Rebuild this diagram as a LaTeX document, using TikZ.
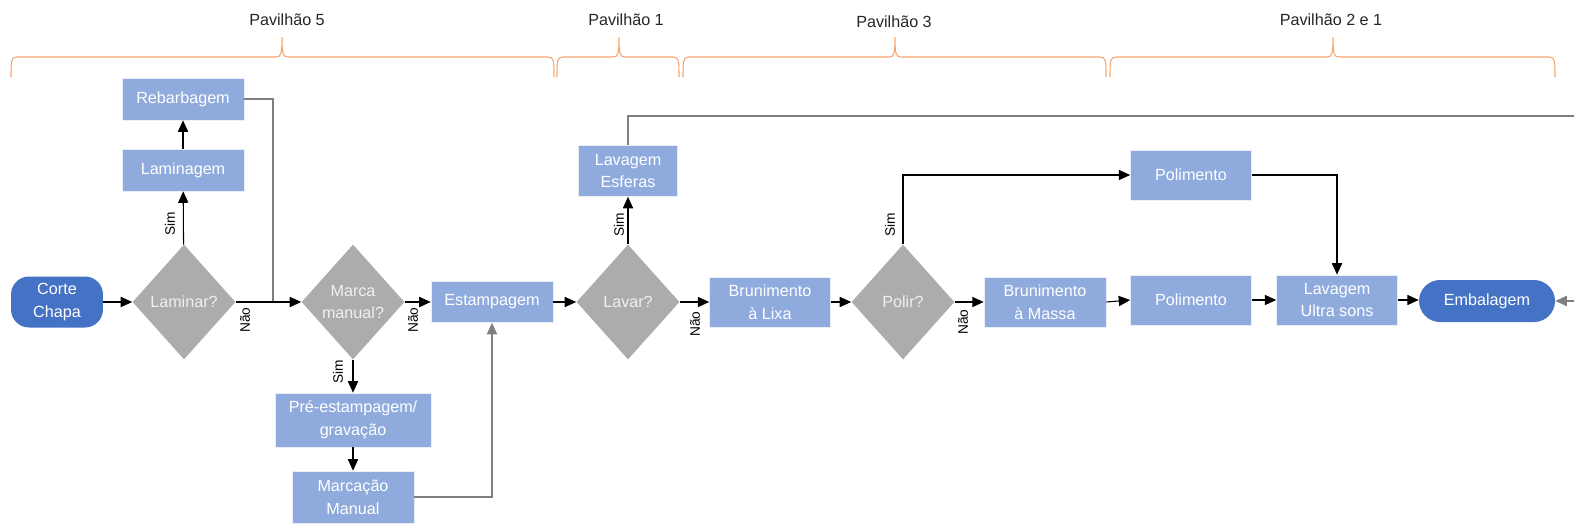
\documentclass[tikz,border=0pt]{standalone}
\usepackage{fontspec}
\setmainfont{Liberation Sans}
\usepackage{xcolor}
\usepackage{tikz}
\usetikzlibrary{arrows.meta,shapes.geometric}
\definecolor{boxblue}{HTML}{8FAADC}
\definecolor{termblue}{HTML}{4472C4}
\definecolor{decgray}{HTML}{AEABAB}
\definecolor{pavorange}{HTML}{F4A56F}
\definecolor{linegray}{HTML}{7F7F7F}
\tikzset{
  box/.style={rectangle, fill=boxblue, draw=white!80!boxblue, line width=0.4pt, text=white,
    font=\fontsize{9.2}{13}\selectfont, align=center, inner sep=1pt},
  term/.style={rectangle, rounded corners=0.36cm, fill=termblue, text=white,
    font=\fontsize{9.2}{13}\selectfont, align=center, inner sep=1pt},
  dec/.style={diamond, fill=decgray, text=white!94!black, inner sep=0pt, align=center,
    minimum width=2.06cm, minimum height=2.3cm, font=\fontsize{9.2}{13}\selectfont},
  flow/.style={draw=black, line width=0.6pt, -{Triangle[length=6.5pt,width=5.8pt]}},
  gflow/.style={draw=linegray, line width=0.8pt, -{Triangle[length=6.5pt,width=5.8pt]}},
  gline/.style={draw=linegray, line width=0.8pt},
  pav/.style={text=black!85, font=\fontsize{9.2}{11}\selectfont},
  yn/.style={text=black, rotate=90, font=\fontsize{7.8}{9}\selectfont, inner sep=1pt},
  brc/.style={draw=pavorange, line width=0.6pt},
}
% curly bracket over one pavilion: left end, tip, right end (px)
\newcommand{\pavbrace}[3]{%
  \draw[brc] (#1,77) .. controls (#1,61) and (#1,57) .. (#1+6,57) -- (#2-6,57)
    .. controls (#2-1,57) and (#2,54) .. (#2,37)
    .. controls (#2,54) and (#2+1,57) .. (#2+6,57) -- (#3-6,57)
    .. controls (#3,57) and (#3,61) .. (#3,77);}

\begin{document}
\begin{tikzpicture}[x=0.02cm, y=-0.02cm]
  \useasboundingbox (0,0) rectangle (1574,525);
  \clip (0,0) rectangle (1574,525);

  % pavilions
  \pavbrace{11}{282}{554}
  \pavbrace{557}{619}{679}
  \pavbrace{683}{895}{1106}
  \pavbrace{1110}{1333}{1555}
  \node[pav] (p5) at (287,20) {Pavilhão 5};
  \node[pav] (p1) at (626,20) {Pavilhão 1};
  \node[pav] (p3) at (894,22) {Pavilhão 3};
  \node[pav] (p21) at (1331,20) {Pavilhão 2 e 1};

  % steps
  \node[term, minimum width=1.84cm, minimum height=1.02cm] (corte) at (57,302) {Corte\\Chapa};
  \node[dec] (lam) at (184,302) {Laminar?};
  \node[box, minimum width=2.44cm, minimum height=0.84cm] (lamg) at (183,170) {Laminagem};
  \node[box, minimum width=2.44cm, minimum height=0.84cm] (reb) at (183,99) {Rebarbagem};
  \node[dec] (mm) at (353,302) {Marca\\manual?};
  \node[box, minimum width=2.44cm, minimum height=0.82cm] (est) at (492,302) {Estampagem};
  \node[box, minimum width=3.12cm, minimum height=1.08cm] (pre) at (353,420) {Pré-estampagem/\\gravação};
  \node[box, minimum width=2.44cm, minimum height=1.04cm] (marc) at (353,497) {Marcação\\Manual};
  \node[dec] (lav) at (628,302) {Lavar?};
  \node[box, minimum width=1.98cm, minimum height=1.02cm] (lavE) at (628,171) {Lavagem\\Esferas};
  \node[box, minimum width=2.42cm, minimum height=1.0cm] (brL) at (770,302) {Brunimento\\à Lixa};
  \node[dec] (pol) at (903,302) {Polir?};
  \node[box, minimum width=2.44cm, minimum height=1.0cm] (brM) at (1045,302) {Brunimento\\à Massa};
  \node[box, minimum width=2.42cm, minimum height=1.0cm] (polA) at (1191,175) {Polimento};
  \node[box, minimum width=2.42cm, minimum height=1.0cm] (polB) at (1191,300) {Polimento};
  \node[box, minimum width=2.42cm, minimum height=1.0cm] (lus) at (1337,300) {Lavagem\\Ultra sons};
  \node[term, rounded corners=0.42cm, minimum width=2.72cm, minimum height=0.84cm] (emb) at (1487,301) {Embalagem};

  \coordinate (j1) at (273,302);
  \coordinate (rt) at (1600,116);

  % connectors
  \draw[flow] (corte) -- (lam);
  \draw[flow] (lam) -- (lamg);
  \draw[flow] (lamg) -- (reb);
  \draw[gline] (reb.east) -| (j1);
  \draw[flow] (lam) -- (mm);
  \draw[flow] (mm) -- (est);
  \draw[flow] (mm) -- (pre);
  \draw[flow] (pre) -- (marc);
  \draw[gflow] (marc.east) -| (est.south);
  \draw[flow] (est) -- (lav);
  \draw[flow] (lav) -- (lavE);
  \draw[gflow] (lavE.north) |- (rt) |- (emb.east);
  \draw[flow] (lav) -- (brL);
  \draw[flow] (brL) -- (pol);
  \draw[flow] (pol.north) |- (polA.west);
  \draw[flow] (pol.east) -- (brM.west |- pol.east);
  \draw[flow] (brM.east) -- (polB.west);
  \draw[flow] (polA.east) -| (lus.north);
  \draw[flow] (polB) -- (lus);
  \draw[flow] (lus.east) -- (emb.west |- lus.east);

  % answers
  \node[yn] (s1) at (170,224) {Sim};
  \node[yn] (n1) at (245,320) {Não};
  \node[yn] (n2) at (413,320) {Não};
  \node[yn] (s2) at (338,372) {Sim};
  \node[yn] (s3) at (619,225) {Sim};
  \node[yn] (n3) at (695,324) {Não};
  \node[yn] (s4) at (890,225) {Sim};
  \node[yn] (n4) at (963,322) {Não};
\end{tikzpicture}
\end{document}
